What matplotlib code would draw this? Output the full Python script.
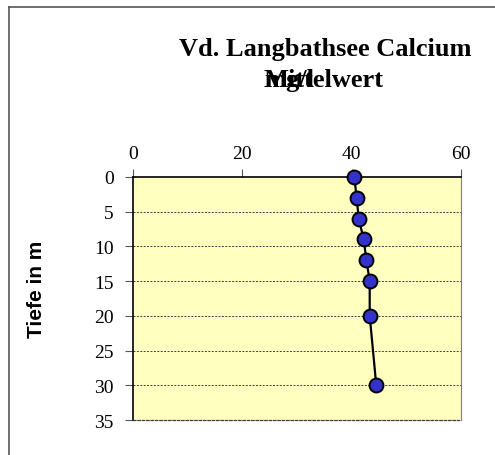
import matplotlib
matplotlib.use("Agg")
import matplotlib.pyplot as plt
from matplotlib.lines import Line2D

# Werte
calcium = [40.5, 40.9, 41.3, 42.2, 42.7, 43.3, 43.3, 44.5]   # mg/l
tiefe = [0, 3, 6, 9, 12, 15, 20, 30]                           # m
x_ticks = [0, 20, 40, 60]
y_ticks = [0, 5, 10, 15, 20, 25, 30, 35]

W, H = 495, 456
fig = plt.figure(figsize=(W / 100, H / 100), dpi=100)
fig.patch.set_facecolor("white")

# Plotbereich in Pixeln: links 133, rechts 461, oben 178, unten 421
L, R, T, B = 133, 461, 178, 421
ax = fig.add_axes([L / W, 1 - B / H, (R - L) / W, (B - T) / H])
ax.set_facecolor("#FFFFC0")

ax.plot(calcium, tiefe, color="black", linewidth=1.6, marker="o",
        markersize=10, markerfacecolor="#3333CC", markeredgecolor="black",
        markeredgewidth=1.4, zorder=3, clip_on=False)

ax.set_xlim(0, 60)
ax.set_ylim(35, 0)
ax.set_xticks(x_ticks)
ax.set_yticks(y_ticks)
ax.xaxis.tick_top()
ax.tick_params(axis="both", direction="out", length=6, width=0.8, color="#555555",
               labelsize=14)
ax.tick_params(axis="x", pad=5)
ax.tick_params(axis="y", pad=8)
for lab in ax.get_xticklabels() + ax.get_yticklabels():
    lab.set_family("Liberation Serif")

for y in y_ticks[1:-1]:
    ax.axhline(y, color="#404040", linewidth=0.7, linestyle=(0, (2, 1.5)), zorder=1)

ax.spines["left"].set_color("black")
ax.spines["top"].set_color("black")
ax.spines["left"].set_linewidth(1.2)
ax.spines["top"].set_linewidth(1.2)
ax.spines["right"].set_color("#808080")
ax.spines["bottom"].set_color("#404040")
ax.spines["bottom"].set_linestyle((0, (2, 1.5)))
ax.spines["bottom"].set_linewidth(0.9)

# Titel (zweite Zeile im Original überlagert)
fig.text(325 / W, 1 - 56 / H, "Vd. Langbathsee Calcium", ha="center", va="baseline",
         fontsize=19, fontweight="bold", family="Liberation Serif")
fig.text(324 / W, 1 - 87 / H, "Mittelwert", ha="center", va="baseline",
         fontsize=19, fontweight="bold", family="Liberation Serif")
fig.text(264 / W, 1 - 87 / H, "mg/l", ha="left", va="baseline",
         fontsize=19, fontweight="bold", family="Liberation Serif")

fig.text(37 / W, 1 - 289 / H, "Tiefe in m", ha="center", va="center", rotation=90,
         fontsize=15, fontweight="bold", family="Liberation Sans")

# Rahmen des Diagrammbereichs
fig.add_artist(Line2D([9 / W, 1], [1 - 8 / H, 1 - 8 / H], transform=fig.transFigure,
                      color="#555555", linewidth=1.2))
fig.add_artist(Line2D([9 / W, 9 / W], [0, 1 - 8 / H], transform=fig.transFigure,
                      color="#555555", linewidth=1.2))

fig.savefig("out.png", dpi=100, facecolor="white")
